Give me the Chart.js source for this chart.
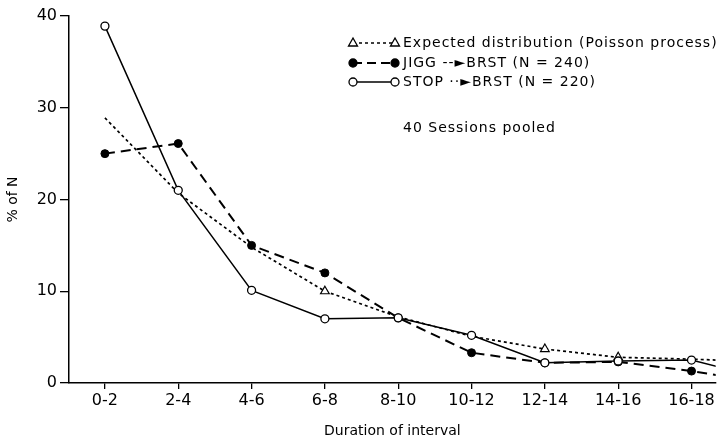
<!DOCTYPE html>
<html><head><meta charset="utf-8">
<script src="https://cdn.jsdelivr.net/npm/chart.js@4"></script>
<style>html,body{margin:0;padding:0;background:#fff}#wrap{width:721px;height:438px;position:relative}</style>
</head><body><div id="wrap"><canvas id="c"></canvas></div>
<script>
// ---- data ----
const categories = ['0-2','2-4','4-6','6-8','8-10','10-12','12-14','14-16','16-18','18-20'];
const expectedValues = [28.9, 20.7, 14.8, 10.0, 7.2, 5.1, 3.7, 2.8, 2.6, 2.3];
const jiggValues     = [25.0, 26.1, 15.0, 12.0, 7.1, 3.3, 2.2, 2.3, 1.3, 0.0];
const stopValues     = [38.9, 21.0, 10.1, 7.0, 7.1, 5.2, 2.2, 2.4, 2.5, 0.5];
const yTicks = [0, 10, 20, 30, 40];
const seriesNames = ['Expected distribution (Poisson process)', 'JIGG --\u25BABRST (N = 240)', 'STOP \u00B7\u00B7\u25BABRST (N = 220)'];
const noteText = '40 Sessions pooled';
const xTitle = 'Duration of interval';
const yTitle = '% of N';

const FONT = '"DejaVu Sans", sans-serif';
const toXY = arr => arr.map((v, i) => ({x: i, y: v}));

const legendPlugin = {
  id: 'customLegend',
  afterDraw(chart) {
    const ctx = chart.ctx;
    ctx.save();
    ctx.strokeStyle = '#000';
    ctx.fillStyle = '#000';
    const rows = [
      {y: 43, dash: [3, 3], w: 1.6, marker: 'tri'},
      {y: 63, dash: [9, 5], w: 2, marker: 'fill'},
      {y: 82, dash: [], w: 1.4, marker: 'open'}
    ];
    const x1 = 353, x2 = 395, tx = 403;
    rows.forEach((r, i) => {
      ctx.beginPath();
      ctx.setLineDash(r.dash);
      ctx.lineWidth = r.w;
      ctx.moveTo(x1, r.y); ctx.lineTo(x2, r.y); ctx.stroke();
      ctx.setLineDash([]);
      [x1, x2].forEach(px => {
        ctx.lineWidth = 1.3;
        if (r.marker === 'tri') {
          ctx.beginPath();
          ctx.moveTo(px, r.y - 5); ctx.lineTo(px + 4.5, r.y + 3); ctx.lineTo(px - 4.5, r.y + 3); ctx.closePath();
          ctx.fillStyle = '#fff'; ctx.fill(); ctx.stroke();
        } else {
          ctx.beginPath(); ctx.arc(px, r.y, 4, 0, Math.PI * 2);
          ctx.fillStyle = r.marker === 'fill' ? '#000' : '#fff';
          ctx.fill(); ctx.stroke();
        }
      });
      ctx.fillStyle = '#000';
      ctx.font = '14px ' + FONT;
      ctx.letterSpacing = '1px';
      ctx.textBaseline = 'middle';
      ctx.textAlign = 'left';
      ctx.fillText(seriesNames[i], tx, r.y);
    });
    ctx.fillText(noteText, tx, 128);
    ctx.restore();
  }
};

new Chart(document.getElementById('c'), {
  type: 'line',
  data: {
    datasets: [
      {label: seriesNames[2], data: toXY(stopValues), borderColor: '#000', borderWidth: 1.5,
       pointStyle: 'circle', pointRadius: 4, pointBackgroundColor: '#fff', pointBorderColor: '#000', pointBorderWidth: 1.3, tension: 0},
      {label: seriesNames[1], data: toXY(jiggValues), borderColor: '#000', borderWidth: 2, borderDash: [10, 6],
       pointStyle: 'circle', pointRadius: 4, pointBackgroundColor: '#000', pointBorderColor: '#000', pointBorderWidth: 1, tension: 0},
      {label: seriesNames[0], data: toXY(expectedValues), borderColor: '#000', borderWidth: 1.7, borderDash: [3, 3],
       pointStyle: 'triangle', pointRadius: [0, 0, 0, 5, 0, 0, 5, 5, 0, 0], pointBackgroundColor: '#fff', pointBorderColor: '#000', pointBorderWidth: 1.2, tension: 0}
    ]
  },
  options: {
    responsive: true, maintainAspectRatio: false, animation: false,
    layout: {padding: {top: 16, right: 0, left: 0, bottom: 0}},
    plugins: {legend: {display: false}, tooltip: {enabled: false}},
    scales: {
      x: {
        type: 'linear', min: -0.49, max: 8.33,
        afterBuildTicks: s => { s.ticks = categories.map((_, i) => ({value: i})).filter(t => t.value <= s.max); },
        afterFit: s => { s.height = 55; s.paddingRight = 0; s.paddingLeft = 0; },
        ticks: {callback: v => categories[v], color: '#000', font: {family: FONT, size: 16}, padding: 2, maxRotation: 0, autoSkip: false},
        grid: {drawOnChartArea: false, drawTicks: true, tickLength: 6, color: '#000', lineWidth: 1.3},
        border: {display: true, color: '#000', width: 1.5},
        title: {display: true, text: xTitle, color: '#000', font: {family: FONT, size: 14, lineHeight: 1}, padding: {top: 0, bottom: 0}}
      },
      y: {
        min: 0, max: 40,
        afterBuildTicks: s => { s.ticks = yTicks.map(v => ({value: v})); },
        afterFit: s => { s.width = 69; },
        ticks: {color: '#000', font: {family: FONT, size: 16}, padding: 3},
        grid: {drawOnChartArea: false, drawTicks: true, tickLength: 9, color: '#000', lineWidth: 1.3},
        border: {display: true, color: '#000', width: 1.5},
        title: {display: true, text: yTitle, color: '#000', font: {family: FONT, size: 14}, padding: {top: 5, bottom: 0}}
      }
    }
  },
  plugins: [legendPlugin]
});
</script>
</body></html>
